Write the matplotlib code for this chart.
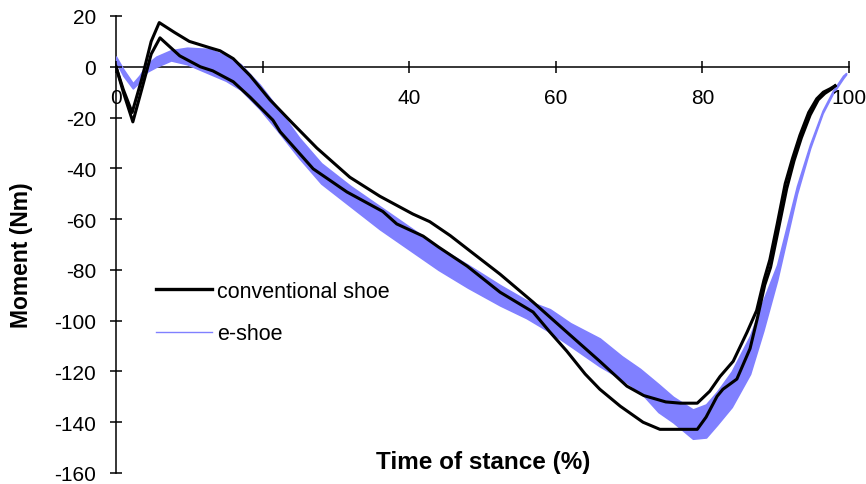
import matplotlib
matplotlib.use("Agg")
import matplotlib.pyplot as plt
from matplotlib.lines import Line2D

plt.rcParams['font.family'] = ['Liberation Sans', 'DejaVu Sans']
plt.rcParams['axes.unicode_minus'] = False

# conventional shoe: mean +/- SD envelope drawn as two black lines
conv_hi_x = [0, 1, 2.2, 3.5, 4.8, 5.9, 8, 10, 12.8, 14.2, 16, 18.3, 21, 24, 27.4,
             31.9, 36, 40.5, 42.8, 45.6, 48.5, 52.4, 56.9, 61.5, 66, 69.7, 72,
             75, 77, 79.3, 81, 82.4, 84.2, 86.1, 87.4, 88.4, 89.2, 90.2, 91.3,
             92.3, 93.3, 94.5, 95.6, 96.5, 97.4, 98.1]
conv_hi_y = [0, -9, -18, -5, 10, 17.4, 13.5, 10, 7.5, 6.3, 3.2, -3.5, -13, -22, -32,
             -43.5, -51, -58, -61, -66.5, -73, -81.7, -92.7, -104.5, -116, -125.8, -129.5,
             -132, -132.5, -132.5, -127.8, -122, -116, -104.5, -96, -84, -76, -62, -46,
             -36, -27, -18, -12.6, -10, -8.7, -7.5]

conv_lo_x = [0, 1, 2.3, 3.5, 4.8, 6, 8.7, 11.5, 13.2, 16, 18.3, 21.4, 22.4, 26.9,
             31.5, 36.4, 38.3, 41.9, 44, 47.9, 52.4, 56.9, 59.2, 61.5, 64, 66, 68.8,
             71.9, 74.2, 79.3, 80.5, 82, 82.8, 84.7, 86.5, 87.5, 88.5, 89.3, 90.3,
             91.5, 92.5, 93.5, 94.7, 95.8, 96.7, 97.6, 98.1]
conv_lo_y = [0, -10, -21.7, -9, 5, 11.4, 4.3, 0, -1.6, -5.9, -12, -21, -25.6, -40.2,
             -49.3, -57, -61.9, -66.7, -71, -78.5, -88.8, -96.6, -104.5, -112, -121, -127, -133.7,
             -140, -142.8, -142.8, -138, -129.8, -127, -123, -111, -99, -86, -79, -65,
             -48, -37, -28, -19, -13, -10.5, -8.8, -7.5]

# e-shoe: mean +/- SD band
e_x = [0, 1, 2.3, 3.2, 4.2, 5.5, 7.5, 9.7, 12.8, 15, 17, 19.6, 22, 25, 28, 32, 36,
       40, 44, 48, 52.4, 56, 59.2, 62, 66, 69, 71.5, 74, 76, 78.7, 80.5, 82, 84,
       86.5, 88.3, 90.2, 92.9, 94.7, 96.4, 97.8, 99.2, 99.6]
e_hi = [4, -1, -6.5, -3.5, 1, 4, 6.5, 7.5, 7, 4.3, 1, -7, -16, -28, -38, -47, -55,
        -63, -71, -78, -86, -92, -95.5, -101, -107, -114, -119, -125, -130, -135, -133, -128, -120,
        -106, -92, -78, -47, -30.5, -17.3, -9.5, -3.5, -2.5]
e_lo = [2, -3.5, -8.5, -6, -2, 0, 2.5, 1, -2.8, -5.5, -9, -16.6, -25, -36, -46, -55, -64,
        -72, -80, -87, -94, -99, -104.5, -110, -118, -123, -128, -136, -140, -146.5, -146, -141, -134,
        -121, -104, -84, -50, -32, -18.3, -10.5, -4.5, -3]

x_ticks = [0, 20, 40, 60, 80, 100]
x_tick_labels = ['0', '', '40', '60', '80', '100']
y_ticks = list(range(-160, 21, 20))

blue = '#8080ff'

fig = plt.figure(figsize=(8.66, 4.85), dpi=100)
ax = fig.add_axes([116 / 866, 11 / 485, 733 / 866, 457 / 485])

ax.fill_between(e_x, e_lo, e_hi, color=blue, lw=1.2, edgecolor=blue, zorder=1)
ax.plot(conv_hi_x, conv_hi_y, color='black', lw=2.2, zorder=3)
ax.plot(conv_lo_x, conv_lo_y, color='black', lw=2.2, zorder=3)

ax.set_xlim(0, 100)
ax.set_ylim(-160, 20)
ax.spines['top'].set_visible(False)
ax.spines['right'].set_visible(False)
ax.spines['bottom'].set_position(('data', 0))
for s in ('left', 'bottom'):
    ax.spines[s].set_linewidth(1.1)
    ax.spines[s].set_zorder(0.5)

ax.set_xticks(x_ticks)
ax.set_xticklabels(x_tick_labels)
ax.set_yticks(y_ticks)
ax.tick_params(direction='inout', length=8.5, width=1.1, labelsize=15)
ax.tick_params(axis='x', pad=11)
ax.tick_params(axis='y', pad=10)

fig.text(22 / 866, 1 - 255 / 485, 'Moment (Nm)', rotation=90, fontsize=16.5,
         fontweight='bold', ha='center', va='center')
fig.text(483 / 866, 1 - 463 / 485, 'Time of stance (%)', fontsize=17.5,
         fontweight='bold', ha='center', va='center')

handles = [Line2D([], [], color='black', lw=2.4),
           Line2D([], [], color=blue, lw=1.0)]
ax.legend(handles, ['conventional shoe', 'e-shoe'], loc='upper left',
          bbox_to_anchor=(145 / 866, 1 - 271 / 485), bbox_transform=fig.transFigure,
          frameon=False, borderpad=0, handlelength=2.6, handletextpad=0.25,
          labelspacing=1.0, fontsize=15.5)

fig.savefig('out.png', dpi=100)
